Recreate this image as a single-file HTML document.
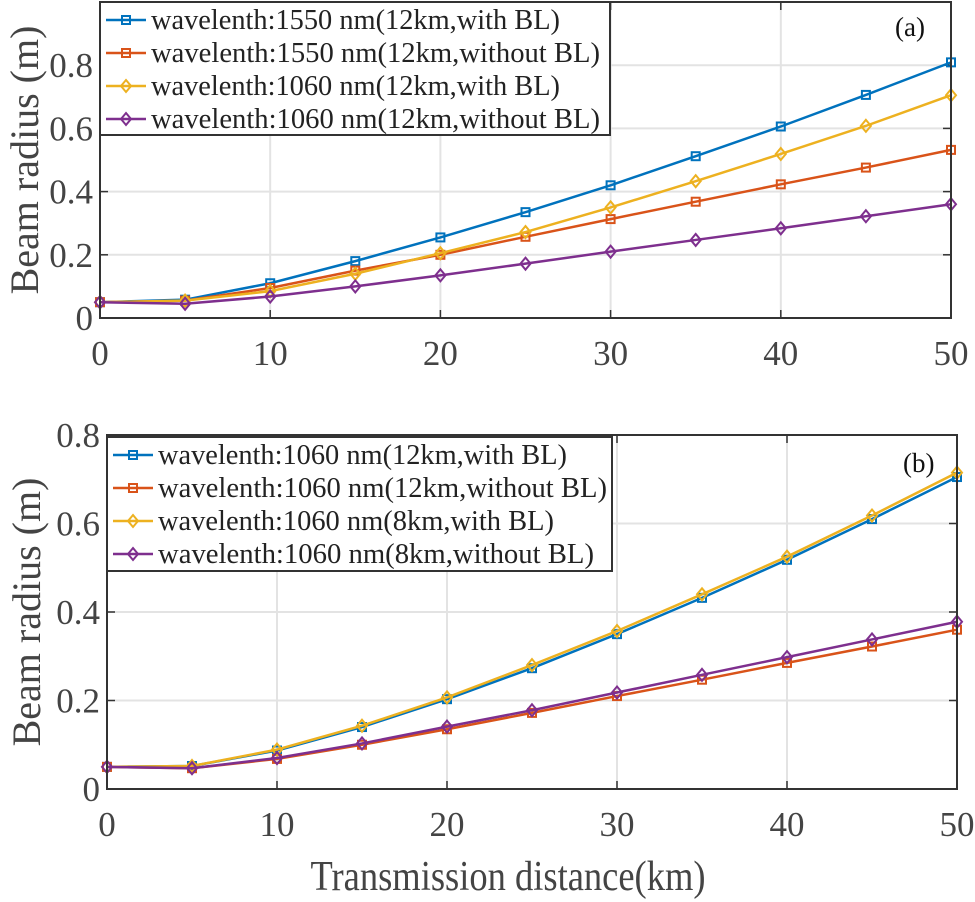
<!DOCTYPE html>
<html><head><meta charset="utf-8"><style>
html,body{margin:0;padding:0;background:#fff;}
svg{display:block;}
svg text{font-family:"Liberation Serif","Times New Roman",serif;}
</style></head><body>
<svg id="fig" width="975" height="902" viewBox="0 0 975 902"></svg>
<script>
const xs = [0,5,10,15,20,25,30,35,40,45,50];
const xTicks = [0,10,20,30,40,50];
const yTicksA = [0,0.2,0.4,0.6,0.8];
const yTickLabelsA = ["0","0.2","0.4","0.6","0.8"];
const yTicksB = [0,0.2,0.4,0.6,0.8];
const yTickLabelsB = ["0","0.2","0.4","0.6","0.8"];
const a1550With = [0.05,0.058,0.11,0.18,0.255,0.335,0.42,0.512,0.606,0.706,0.809];
const a1550Without = [0.05,0.055,0.095,0.15,0.2,0.257,0.313,0.368,0.423,0.476,0.532];
const a1060With = [0.05,0.055,0.085,0.14,0.205,0.272,0.35,0.433,0.519,0.608,0.705];
const a1060Without = [0.05,0.045,0.068,0.1,0.135,0.172,0.21,0.247,0.284,0.322,0.36];
const b12With = [0.05,0.052,0.087,0.14,0.203,0.273,0.35,0.432,0.518,0.61,0.705];
const b12Without = [0.05,0.047,0.068,0.1,0.135,0.172,0.21,0.247,0.285,0.322,0.36];
const b8With = [0.05,0.052,0.089,0.143,0.207,0.28,0.357,0.44,0.525,0.618,0.715];
const b8Without = [0.05,0.047,0.07,0.103,0.141,0.178,0.218,0.258,0.298,0.338,0.378];
const labelsA = ["wavelenth:1550 nm(12km,with BL)","wavelenth:1550 nm(12km,without BL)","wavelenth:1060 nm(12km,with BL)","wavelenth:1060 nm(12km,without BL)"];
const labelsB = ["wavelenth:1060 nm(12km,with BL)","wavelenth:1060 nm(12km,without BL)","wavelenth:1060 nm(8km,with BL)","wavelenth:1060 nm(8km,without BL)"];

const NS="http://www.w3.org/2000/svg";
const svg=document.getElementById('fig');
const FF='"Liberation Serif","Times New Roman",serif';
function mk(tag,attrs,parent){const e=document.createElementNS(NS,tag);for(const k in attrs)e.setAttribute(k,attrs[k]);if(tag==='text')e.setAttribute('font-family',FF);(parent||svg).appendChild(e);return e;}
const cols=["#0072BD","#D95319","#EDB120","#7E2F8E"];
const shapes=["sq","sq","di","di"];

function marker(g,shape,x,y,c){
  let m;
  if(shape==="sq") m=mk('rect',{x:x-4,y:y-4,width:8,height:8,fill:'none',stroke:c,'stroke-width':2},g);
  else m=mk('polygon',{points:`${x},${y-6} ${x+5},${y} ${x},${y+6} ${x-5},${y}`,fill:'none',stroke:c,'stroke-width':2},g);
  
  
}

function panel(cfg){
  const {L,R,T,B,ymax,yTicks,yLabels,series,labels,tag,name,leg}=cfg;
  const g=mk('g',{});
  
  
  const X=v=>L+(v-0)/(50)*(R-L);
  const Y=v=>B-v/ymax*(B-T);
  xTicks.forEach(t=>{const l=mk('line',{x1:X(t),x2:X(t),y1:T,y2:B,stroke:'#e3e3e3','stroke-width':2},g);});
  yTicks.forEach(t=>{const l=mk('line',{x1:L,x2:R,y1:Y(t),y2:Y(t),stroke:'#e3e3e3','stroke-width':2},g);});
  xTicks.forEach(t=>{
    mk('line',{x1:X(t),x2:X(t),y1:B,y2:B-8,stroke:'#333','stroke-width':1.5},g);
    mk('line',{x1:X(t),x2:X(t),y1:T,y2:T+8,stroke:'#333','stroke-width':1.5},g);
    const tx=mk('text',{x:X(t),y:B+47,'font-size':35,'text-anchor':'middle',fill:'#444'},g);tx.textContent=t;
    
  });
  yTicks.forEach((t,i)=>{
    mk('line',{x1:L,x2:L+8,y1:Y(t),y2:Y(t),stroke:'#333','stroke-width':1.5},g);
    mk('line',{x1:R,x2:R-8,y1:Y(t),y2:Y(t),stroke:'#333','stroke-width':1.5},g);
    const tx=mk('text',{x:L-7,y:Y(t)+12,'font-size':35,'text-anchor':'end',fill:'#444'},g);tx.textContent=yLabels[i];
    
  });
  series.forEach((s,i)=>{
    const pts=xs.map((x,j)=>X(x)+','+Y(s[j])).join(' ');
    const pl=mk('polyline',{points:pts,fill:'none',stroke:cols[i],'stroke-width':2.5},g);
    
    
    xs.forEach((x,j)=>marker(g,shapes[i],X(x),Y(s[j]),cols[i]));
  });
  const fr=mk('rect',{x:L,y:T,width:R-L,height:B-T,fill:'none',stroke:'#333','stroke-width':2},g);
  
  const lg=mk('g',{},g);
  
  mk('rect',{x:leg.x,y:leg.y,width:leg.w,height:leg.h,fill:'#fff',stroke:'#333','stroke-width':2},lg);
  labels.forEach((lab,i)=>{
    const cy=leg.y+18+i*33;
    const e=mk('g',{},lg);
    
    mk('line',{x1:leg.x+6,x2:leg.x+46,y1:cy,y2:cy,stroke:cols[i],'stroke-width':2.5},e);
    marker(e,shapes[i],leg.x+26,cy,cols[i]);
    const tx=mk('text',{x:leg.x+51,y:cy+9,'font-size':28,fill:'#222',textLength:Math.round(lab.length*13.2),lengthAdjust:'spacingAndGlyphs'},e);tx.textContent=lab;
    
  });
  const tg=mk('text',{x:tag.x,y:tag.y,'font-size':27,fill:'#111'},g);tg.textContent=tag.t;
  
  const yl=mk('text',{transform:`translate(${cfg.ylx},${(T+B)/2+cfg.yloff}) rotate(-90)`,'font-size':40,'text-anchor':'middle',fill:'#444'},g);
  yl.textContent='Beam radius (m)';
  
}

panel({L:100,R:951,T:2,B:318,ymax:1,yTicks:yTicksA,yLabels:yTickLabelsA,
  series:[a1550With,a1550Without,a1060With,a1060Without],labels:labelsA,
  tag:{x:895,y:36,t:'(a)'},name:'panel-a',leg:{x:100,y:2,w:510,h:133},ylx:38,yloff:0});
panel({L:107,R:957,T:435,B:789,ymax:0.8,yTicks:yTicksB,yLabels:yTickLabelsB,
  series:[b12With,b12Without,b8With,b8Without],labels:labelsB,
  tag:{x:903,y:472,t:'(b)'},name:'panel-b',leg:{x:107,y:437,w:505,h:134},ylx:40,yloff:0});

const xl=mk('text',{x:508,y:890,'font-size':42,'text-anchor':'middle',fill:'#444',textLength:395,lengthAdjust:'spacingAndGlyphs'});
xl.textContent='Transmission distance(km)';


</script>
</body></html>
